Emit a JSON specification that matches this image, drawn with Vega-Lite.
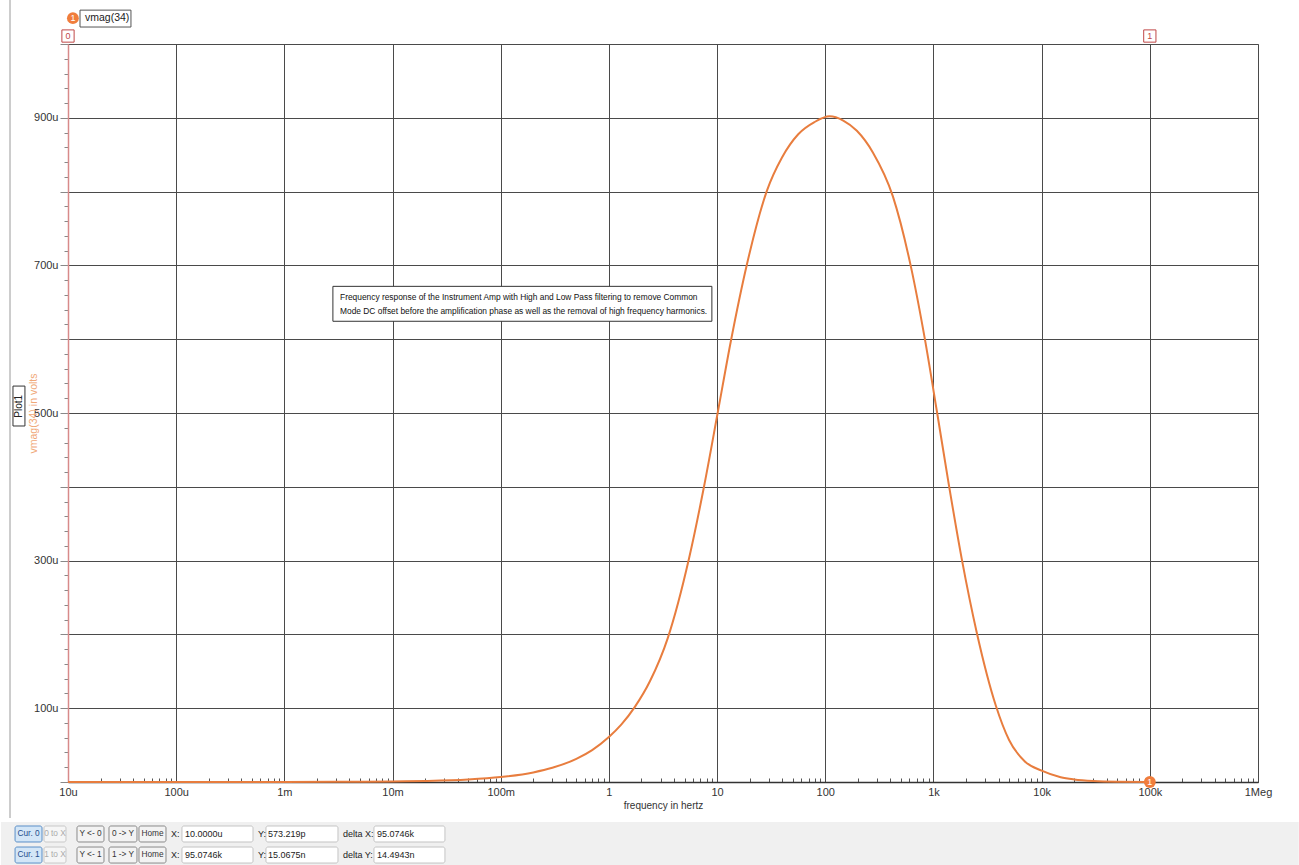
{
  "$schema": "https://vega.github.io/schema/vega-lite/v6.json",
  "width": 1190,
  "height": 738,
  "autosize": {"type": "none"},
  "padding": {"left": 68, "top": 44, "right": 41, "bottom": 83},
  "background": "white",
  "config": {
    "font": "Liberation Sans",
    "view": {"stroke": "#9a9a9a", "strokeWidth": 1}
  },
  "datasets": {
    "curve": [
      {"f": 0.00001, "v": 0.0006}, {"f": 0.0001, "v": 0.006}, {"f": 0.001, "v": 0.06},
      {"f": 0.003, "v": 0.2}, {"f": 0.01, "v": 0.7}, {"f": 0.02, "v": 1.4},
      {"f": 0.05, "v": 3.4}, {"f": 0.1, "v": 6.7}, {"f": 0.2, "v": 13},
      {"f": 0.3, "v": 19.2}, {"f": 0.5, "v": 31.4}, {"f": 0.7, "v": 43.3},
      {"f": 1, "v": 61}, {"f": 1.3, "v": 77.7}, {"f": 1.738, "v": 101.8},
      {"f": 2.4, "v": 136.8}, {"f": 3.5, "v": 195},
      {"f": 5.5, "v": 302.8}, {"f": 7.55, "v": 399.4}, {"f": 10.16, "v": 501.3},
      {"f": 13.4, "v": 597.3}, {"f": 18.88, "v": 701.6}, {"f": 28.84, "v": 801},
      {"f": 39.81, "v": 846.2}, {"f": 56.23, "v": 877.7}, {"f": 79.43, "v": 894.2},
      {"f": 109.6, "v": 902}, {"f": 146.6, "v": 896.3}, {"f": 195.9, "v": 882.4},
      {"f": 275.4, "v": 853.1}, {"f": 421.7, "v": 793.5}, {"f": 618, "v": 698.7},
      {"f": 831.8, "v": 600.7}, {"f": 1074, "v": 503}, {"f": 1387, "v": 403},
      {"f": 1828, "v": 302}, {"f": 2518, "v": 202}, {"f": 3776, "v": 103.4},
      {"f": 5000, "v": 57}, {"f": 7000, "v": 27.8}, {"f": 10000, "v": 15.4},
      {"f": 15000, "v": 6.5}, {"f": 20000, "v": 3.5}, {"f": 30000, "v": 1.3},
      {"f": 50000, "v": 0.3}, {"f": 95074.6, "v": 0.015}
    ],
    "toolbarBg": [
      {"f": 0.0000024, "f2": 2380000, "v": -54.2, "v2": -112.5}
    ],
    "frame": [
      {"f": 0.00000291, "v": 1059.6, "v2": -48.8}
    ],
    "buttons": [
      {"f": 0.00000324, "f2": 0.00000575, "v": -59.6, "v2": -81.3, "kind": "cur"},
      {"f": 0.000006, "f2": 0.00000958, "v": -59.6, "v2": -81.3, "kind": "off"},
      {"f": 0.00001211, "f2": 0.00002151, "v": -59.6, "v2": -81.3, "kind": "btn"},
      {"f": 0.00002393, "f2": 0.0000434, "v": -59.6, "v2": -81.3, "kind": "btn"},
      {"f": 0.0000453, "f2": 0.0000805, "v": -59.6, "v2": -81.3, "kind": "btn"},
      {"f": 0.0001131, "f2": 0.000513, "v": -59.6, "v2": -81.3, "kind": "field"},
      {"f": 0.000676, "f2": 0.00313, "v": -59.6, "v2": -81.3, "kind": "field"},
      {"f": 0.00673, "f2": 0.0305, "v": -59.6, "v2": -81.3, "kind": "field"},
      {"f": 0.00000324, "f2": 0.00000575, "v": -88.1, "v2": -109.8, "kind": "cur"},
      {"f": 0.000006, "f2": 0.00000958, "v": -88.1, "v2": -109.8, "kind": "off"},
      {"f": 0.00001211, "f2": 0.00002151, "v": -88.1, "v2": -109.8, "kind": "btn"},
      {"f": 0.00002393, "f2": 0.0000434, "v": -88.1, "v2": -109.8, "kind": "btn"},
      {"f": 0.0000453, "f2": 0.0000805, "v": -88.1, "v2": -109.8, "kind": "btn"},
      {"f": 0.0001131, "f2": 0.000513, "v": -88.1, "v2": -109.8, "kind": "field"},
      {"f": 0.000676, "f2": 0.00313, "v": -88.1, "v2": -109.8, "kind": "field"},
      {"f": 0.00673, "f2": 0.0305, "v": -88.1, "v2": -109.8, "kind": "field"}
    ],
    "btnText": [
      {"f": 0.00000432, "v": -70.5, "label": "Cur. 0", "kind": "cur"},
      {"f": 0.00000758, "v": -70.5, "label": "0 to X", "kind": "off"},
      {"f": 0.00001614, "v": -70.5, "label": "Y <- 0", "kind": "btn"},
      {"f": 0.00003223, "v": -70.5, "label": "0 -> Y", "kind": "btn"},
      {"f": 0.0000604, "v": -70.5, "label": "Home", "kind": "btn"},
      {"f": 0.00000432, "v": -99, "label": "Cur. 1", "kind": "cur"},
      {"f": 0.00000758, "v": -99, "label": "1 to X", "kind": "off"},
      {"f": 0.00001614, "v": -99, "label": "Y <- 1", "kind": "btn"},
      {"f": 0.00003223, "v": -99, "label": "1 -> Y", "kind": "btn"},
      {"f": 0.0000604, "v": -99, "label": "Home", "kind": "btn"}
    ],
    "readText": [
      {"f": 0.0000895, "v": -70.5, "label": "X:"},
      {"f": 0.0001206, "v": -70.5, "label": "10.0000u"},
      {"f": 0.00057, "v": -70.5, "label": "Y:"},
      {"f": 0.000705, "v": -70.5, "label": "573.219p"},
      {"f": 0.00348, "v": -70.5, "label": "delta X:"},
      {"f": 0.00718, "v": -70.5, "label": "95.0746k"},
      {"f": 0.0000895, "v": -99, "label": "X:"},
      {"f": 0.0001206, "v": -99, "label": "95.0746k"},
      {"f": 0.00057, "v": -99, "label": "Y:"},
      {"f": 0.000705, "v": -99, "label": "15.0675n"},
      {"f": 0.00348, "v": -99, "label": "delta Y:"},
      {"f": 0.00718, "v": -99, "label": "14.4943n"}
    ],
    "noteBox": [
      {"f": 0.00281, "f2": 8.95, "v": 671.6, "v2": 624.3}
    ],
    "noteText": [
      {"f": 0.00327, "v": 656.8, "label": "Frequency response of the Instrument Amp with High and Low Pass filtering to remove  Common"},
      {"f": 0.00327, "v": 637.8, "label": "Mode DC offset before the amplification phase as well as the removal of high frequency harmonics."}
    ],
    "legendBox": [
      {"f": 0.00001291, "f2": 0.0000382, "v": 1045.9, "v2": 1023}
    ],
    "legendText": [
      {"f": 0.00001436, "v": 1035, "label": "vmag(34)"}
    ],
    "traceDots": [
      {"f": 0.0000111, "v": 1035, "label": "1"},
      {"f": 100000, "v": 0.015, "label": "1"}
    ],
    "cursorTags": [
      {"f": 0.00001, "v": 1010.8, "label": "0"},
      {"f": 100000, "v": 1010.8, "label": "1"}
    ],
    "plotBox": [
      {"f": 0.0000031, "f2": 0.000004, "v": 536.5, "v2": 482.4}
    ],
    "plotText": [
      {"f": 0.00000352, "v": 509, "label": "Plot1"}
    ]
  },
  "layer": [
    {
      "data": {"name": "curve"},
      "mark": {"type": "line", "color": "#e87d3e", "strokeWidth": 2, "interpolate": "monotone"},
      "encoding": {
        "x": {
          "field": "f", "type": "quantitative",
          "scale": {"type": "log", "domain": [0.00001, 1000000], "nice": false},
          "axis": {
            "title": "frequency in hertz",
            "titleFontSize": 10, "titleFontWeight": "normal", "titleColor": "#333", "titlePadding": 3,
            "tickCount": 1000,
            "values": [0.00001,0.00002,0.00003,0.00004,0.00005,0.00006,0.00007,0.00008,0.00009,
              0.0001,0.0002,0.0003,0.0004,0.0005,0.0006,0.0007,0.0008,0.0009,
              0.001,0.002,0.003,0.004,0.005,0.006,0.007,0.008,0.009,
              0.01,0.02,0.03,0.04,0.05,0.06,0.07,0.08,0.09,
              0.1,0.2,0.3,0.4,0.5,0.6,0.7,0.8,0.9,
              1,2,3,4,5,6,7,8,9,
              10,20,30,40,50,60,70,80,90,
              100,200,300,400,500,600,700,800,900,
              1000,2000,3000,4000,5000,6000,7000,8000,9000,
              10000,20000,30000,40000,50000,60000,70000,80000,90000,
              100000,200000,300000,400000,500000,600000,700000,800000,900000,
              1000000],
            "labelExpr": "abs(log(datum.value)/LN10 - round(log(datum.value)/LN10)) < 0.001 ? ['10u','100u','1m','10m','100m','1','10','100','1k','10k','100k','1Meg'][round(log(datum.value)/LN10)+5] : ''",
            "labelFontSize": 11, "labelColor": "#333", "labelPadding": 4, "labelFlush": false, "labelOverlap": false,
            "grid": true, "gridColor": "#4a4a4a", "gridWidth": 1,
            "gridOpacity": {"condition": {"test": "abs(log(datum.value)/LN10 - round(log(datum.value)/LN10)) < 0.001", "value": 1}, "value": 0},
            "ticks": true, "tickColor": "#555",
            "tickSize": {"condition": {"test": "abs(log(datum.value)/LN10 - round(log(datum.value)/LN10)) < 0.001", "value": 0}, "value": -4},
            "domain": true, "domainColor": "#333", "domainWidth": 1.5
          }
        },
        "y": {
          "field": "v", "type": "quantitative",
          "scale": {"domain": [0, 1000], "nice": false, "zero": false},
          "axis": {
            "title": "vmag(34) in volts",
            "titleFontSize": 10.5, "titleFontWeight": "normal", "titleColor": "#f0a878", "titlePadding": -5,
            "tickCount": 1000,
            "values": [0,20,40,60,80,100,120,140,160,180,200,220,240,260,280,300,320,340,360,380,400,420,440,460,480,500,520,540,560,580,600,620,640,660,680,700,720,740,760,780,800,820,840,860,880,900,920,940,960,980,1000],
            "labelExpr": "(datum.value % 200 == 100) ? datum.value + 'u' : ''",
            "labelFontSize": 11, "labelColor": "#333", "labelPadding": 2, "labelOverlap": false,
            "grid": true, "gridColor": "#4a4a4a", "gridWidth": 1,
            "gridOpacity": {"condition": {"test": "datum.value % 100 == 0", "value": 1}, "value": 0},
            "ticks": true, "tickColor": "#888",
            "tickSize": {"condition": {"test": "datum.value % 100 == 0", "value": 8}, "value": 4},
            "domain": true, "domainColor": "#d88a8a", "domainWidth": 1.5
          }
        }
      }
    },
    {
      "mark": {"type": "rule", "color": "#111", "strokeWidth": 2},
      "encoding": {"y": {"datum": 1000}}
    },
    {
      "mark": {"type": "rule", "color": "#d4a0a6", "strokeWidth": 2, "strokeDash": [9, 4]},
      "encoding": {"x": {"datum": 95074.6}}
    },
    {
      "data": {"name": "noteBox"},
      "mark": {"type": "rect", "fill": "white", "stroke": "#333", "strokeWidth": 1},
      "encoding": {
        "x": {"field": "f", "type": "quantitative"}, "x2": {"field": "f2"},
        "y": {"field": "v", "type": "quantitative"}, "y2": {"field": "v2"}
      }
    },
    {
      "data": {"name": "noteText"},
      "mark": {"type": "text", "align": "left", "baseline": "middle", "fontSize": 8.4, "color": "#111"},
      "encoding": {
        "x": {"field": "f", "type": "quantitative"},
        "y": {"field": "v", "type": "quantitative"},
        "text": {"field": "label"}
      }
    },
    {
      "data": {"name": "toolbarBg"},
      "mark": {"type": "rect", "fill": "#f0f0f0", "stroke": null},
      "encoding": {
        "x": {"field": "f", "type": "quantitative"}, "x2": {"field": "f2"},
        "y": {"field": "v", "type": "quantitative"}, "y2": {"field": "v2"}
      }
    },
    {
      "data": {"name": "frame"},
      "mark": {"type": "rule", "color": "#9a9a9a", "strokeWidth": 1},
      "encoding": {
        "x": {"field": "f", "type": "quantitative"},
        "y": {"field": "v", "type": "quantitative"}, "y2": {"field": "v2"}
      }
    },
    {
      "data": {"name": "buttons"},
      "mark": {"type": "rect", "strokeWidth": 1, "cornerRadius": 2},
      "encoding": {
        "x": {"field": "f", "type": "quantitative"}, "x2": {"field": "f2"},
        "y": {"field": "v", "type": "quantitative"}, "y2": {"field": "v2"},
        "fill": {"field": "kind", "type": "nominal", "legend": null,
          "scale": {"domain": ["cur", "off", "btn", "field"], "range": ["#d3e6f7", "#f6f6f6", "#f3f3f3", "#ffffff"]}},
        "stroke": {"field": "kind", "type": "nominal", "legend": null,
          "scale": {"domain": ["cur", "off", "btn", "field"], "range": ["#5b8fc7", "#c8c8c8", "#8a8a8a", "#c4c4c4"]}}
      }
    },
    {
      "data": {"name": "btnText"},
      "mark": {"type": "text", "align": "center", "baseline": "middle", "fontSize": 8.3},
      "encoding": {
        "x": {"field": "f", "type": "quantitative"},
        "y": {"field": "v", "type": "quantitative"},
        "text": {"field": "label"},
        "color": {"field": "kind", "type": "nominal", "legend": null,
          "scale": {"domain": ["cur", "off", "btn"], "range": ["#1f4e8c", "#aaaaaa", "#333333"]}}
      }
    },
    {
      "data": {"name": "readText"},
      "mark": {"type": "text", "align": "left", "baseline": "middle", "fontSize": 9, "color": "#222"},
      "encoding": {
        "x": {"field": "f", "type": "quantitative"},
        "y": {"field": "v", "type": "quantitative"},
        "text": {"field": "label"}
      }
    },
    {
      "data": {"name": "legendBox"},
      "mark": {"type": "rect", "fill": "white", "stroke": "#555", "strokeWidth": 1},
      "encoding": {
        "x": {"field": "f", "type": "quantitative"}, "x2": {"field": "f2"},
        "y": {"field": "v", "type": "quantitative"}, "y2": {"field": "v2"}
      }
    },
    {
      "data": {"name": "legendText"},
      "mark": {"type": "text", "align": "left", "baseline": "middle", "fontSize": 10.5, "color": "#222"},
      "encoding": {
        "x": {"field": "f", "type": "quantitative"},
        "y": {"field": "v", "type": "quantitative"},
        "text": {"field": "label"}
      }
    },
    {
      "data": {"name": "cursorTags"},
      "mark": {"type": "point", "shape": "square", "size": 150, "filled": true, "fill": "white", "stroke": "#c04848", "strokeWidth": 1, "opacity": 1},
      "encoding": {
        "x": {"field": "f", "type": "quantitative"},
        "y": {"field": "v", "type": "quantitative"}
      }
    },
    {
      "data": {"name": "cursorTags"},
      "mark": {"type": "text", "align": "center", "baseline": "middle", "fontSize": 9, "color": "#c04848"},
      "encoding": {
        "x": {"field": "f", "type": "quantitative"},
        "y": {"field": "v", "type": "quantitative"},
        "text": {"field": "label"}
      }
    },
    {
      "data": {"name": "traceDots"},
      "mark": {"type": "point", "shape": "circle", "size": 140, "filled": true, "color": "#f07d3c", "opacity": 1},
      "encoding": {
        "x": {"field": "f", "type": "quantitative"},
        "y": {"field": "v", "type": "quantitative"}
      }
    },
    {
      "data": {"name": "traceDots"},
      "mark": {"type": "text", "align": "center", "baseline": "middle", "fontSize": 9, "color": "white"},
      "encoding": {
        "x": {"field": "f", "type": "quantitative"},
        "y": {"field": "v", "type": "quantitative"},
        "text": {"field": "label"}
      }
    },
    {
      "data": {"name": "plotBox"},
      "mark": {"type": "rect", "fill": "white", "stroke": "#333", "strokeWidth": 1},
      "encoding": {
        "x": {"field": "f", "type": "quantitative"}, "x2": {"field": "f2"},
        "y": {"field": "v", "type": "quantitative"}, "y2": {"field": "v2"}
      }
    },
    {
      "data": {"name": "plotText"},
      "mark": {"type": "text", "align": "center", "baseline": "middle", "fontSize": 10, "angle": 270, "color": "#222"},
      "encoding": {
        "x": {"field": "f", "type": "quantitative"},
        "y": {"field": "v", "type": "quantitative"},
        "text": {"field": "label"}
      }
    }
  ]
}
